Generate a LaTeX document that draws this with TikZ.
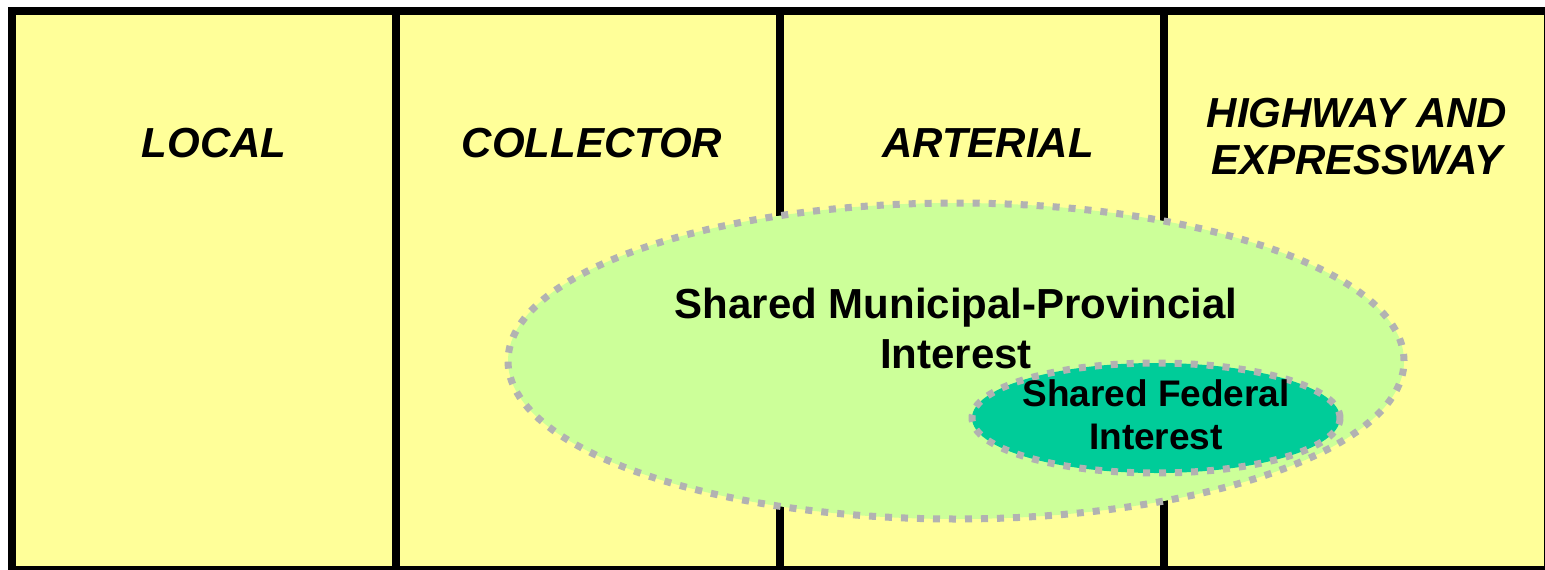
\documentclass[tikz,border=0pt]{standalone}
\usepackage{fontspec}
\setmainfont{Liberation Sans}
\usetikzlibrary{shapes.geometric}
\definecolor{giallo}{HTML}{FFFF99}
\definecolor{verdechiaro}{HTML}{CCFF99}
\definecolor{verdeacqua}{HTML}{00CC99}
\definecolor{grigio}{HTML}{B2B2B2}
\begin{document}
\begin{tikzpicture}[x=0.5pt, y=0.5pt,
        colonna/.style={font=\fontsize{21}{23.5}\selectfont\bfseries\itshape, align=center, inner sep=0pt},
        bordo/.style={draw=grigio, line width=3.5pt, dash pattern=on 3.5pt off 4.5pt},
        testo/.style={font=\fontsize{21}{25}\selectfont\bfseries, align=center, inner sep=0pt},
        testopiccolo/.style={font=\fontsize{18.5}{21.5}\selectfont\bfseries, align=center, inner sep=0pt}]
        \useasboundingbox (0,0) rectangle (1545,569);
        \clip (0,0) rectangle (1545,569);

        % Riquadro delle quattro colonne
        \filldraw[fill=giallo, line width=4pt] (12,-1) rectangle (1548,558);
        \foreach \x in {396, 780, 1164} {
            \draw[line width=4pt] (\x,-1) -- (\x,558);
        }

        % Etichette delle colonne
        \node[colonna, anchor=base] (locale) at (214,412) {LOCAL};
        \node[colonna, anchor=base] (collettore) at (592,412) {COLLECTOR};
        \node[colonna, anchor=base] (arteriale) at (988,412) {ARTERIAL};
        \node[colonna] (autostrada) at (1357,432) {HIGHWAY AND\\EXPRESSWAY};

        % Ellissi degli interessi condivisi
        \node[ellipse, bordo, fill=verdechiaro, minimum width=448pt, minimum height=158pt] (provinciale) at (956,208) {};
        \node[testo] (provtesto) at (956,241) {Shared Municipal-Provincial\\Interest};
        \node[ellipse, bordo, fill=verdeacqua, minimum width=184pt, minimum height=55pt] (federale) at (1156,151) {};
        \node[testopiccolo] (fedtesto) at (1156,154) {Shared Federal\\Interest};
\end{tikzpicture}
\end{document}
